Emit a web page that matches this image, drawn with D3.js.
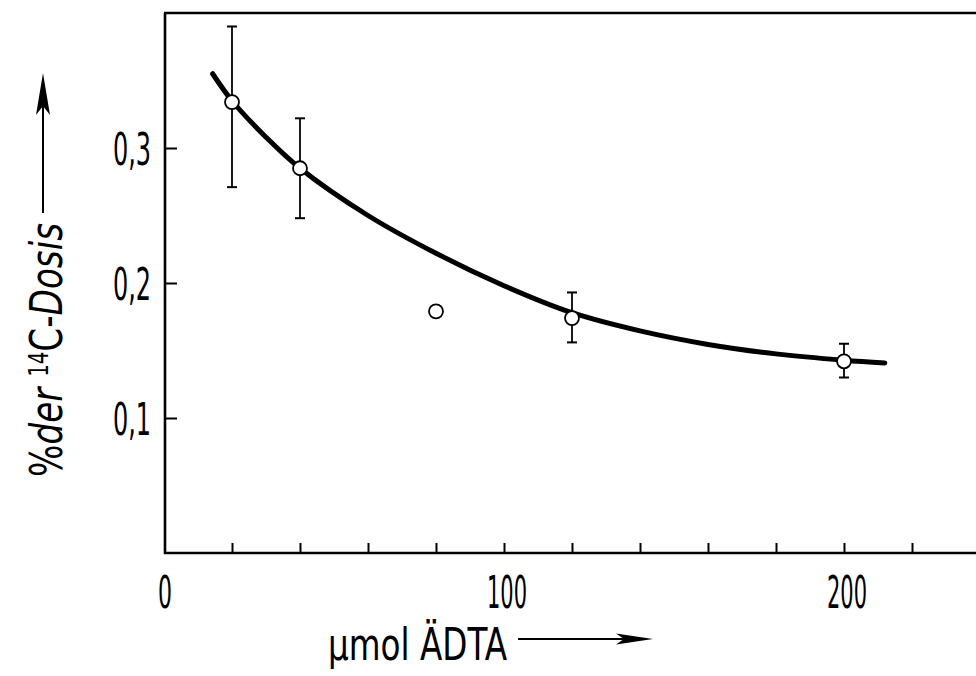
<!DOCTYPE html>
<html>
<head>
<meta charset="utf-8">
<script src="https://cdn.jsdelivr.net/npm/d3@7/dist/d3.min.js"></script>
<style>
  html, body { margin: 0; padding: 0; background: #fff; }
  svg { display: block; }
  text { font-family: "Liberation Sans Narrow", "DejaVu Sans Condensed", "Liberation Sans", sans-serif; fill: #000; }
</style>
</head>
<body>
<script>
// ---- data ----
const xTicks = [20, 40, 60, 80, 100, 120, 140, 160, 180, 200, 220];
const xTickLabels = [[0, "0"], [100, "100"], [200, "200"]];
const yTicks = [0.1, 0.2, 0.3];
const yTickLabels = ["0,1", "0,2", "0,3"];

const pointX = [20, 40, 80, 120, 200];
const pointY = [0.334, 0.285, 0.179, 0.174, 0.142];
const errLow = [0.271, 0.248, null, 0.156, 0.130];
const errHigh = [0.390, 0.322, null, 0.193, 0.155];

const curveX = [14.3, 20, 30, 40, 60, 80, 100, 120, 140, 160, 180, 200, 212];
const curveY = [0.355, 0.335, 0.308, 0.285, 0.250, 0.222, 0.198, 0.178, 0.1645, 0.1545, 0.1475, 0.1428, 0.1408];

const xTitle = "µmol ÄDTA";

// ---- layout ----
const W = 976, H = 676;
const svg = d3.select("body").append("svg").attr("width", W).attr("height", H);

const x = d3.scaleLinear().domain([0, 240]).range([164, 980]);
const y = d3.scaleLinear().domain([0, 0.4]).range([553, 13]);

const axisW = 2.6;

// frame: left, top, bottom
svg.append("line").attr("x1", x(0) + 1).attr("x2", x(0) + 1).attr("y1", y(0.4)).attr("y2", y(0) + 1)
  .attr("stroke", "#000").attr("stroke-width", axisW);
svg.append("line").attr("x1", x(0)).attr("x2", W).attr("y1", y(0.4)).attr("y2", y(0.4))
  .attr("stroke", "#000").attr("stroke-width", axisW);
svg.append("line").attr("x1", x(0)).attr("x2", W).attr("y1", y(0)).attr("y2", y(0))
  .attr("stroke", "#000").attr("stroke-width", axisW);

// x ticks (inward, up)
const gx = svg.append("g").attr("transform", `translate(0,${y(0)})`)
  .call(d3.axisBottom(x).tickValues(xTicks).tickSize(-10).tickFormat(""));
gx.select(".domain").remove();
gx.selectAll(".tick line").attr("stroke", "#000").attr("stroke-width", 2);

// y ticks (inward, right)
const gy = svg.append("g").attr("transform", `translate(${x(0) + 1},0)`)
  .call(d3.axisLeft(y).tickValues(yTicks).tickSize(-12).tickFormat(""));
gy.select(".domain").remove();
gy.selectAll(".tick line").attr("stroke", "#000").attr("stroke-width", 2);

// y tick labels
svg.selectAll(".ylab").data(yTicks).enter().append("text")
  .attr("class", "ylab")
  .attr("x", 151).attr("y", d => y(d) + 17)
  .attr("text-anchor", "end")
  .attr("font-size", 45)
  .attr("textLength", 38).attr("lengthAdjust", "spacingAndGlyphs")
  .text((d, i) => yTickLabels[i]);

// x tick labels
svg.selectAll(".xlab").data(xTickLabels).enter().append("text")
  .attr("class", "xlab")
  .attr("x", d => x(d[0]) + (d[0] === 0 ? 1 : 3)).attr("y", 608)
  .attr("text-anchor", "middle")
  .attr("font-size", 45)
  .attr("textLength", d => d[1].length === 1 ? 14 : 40).attr("lengthAdjust", "spacingAndGlyphs")
  .text(d => d[1]);

// x title + arrow
svg.append("text").attr("x", 328).attr("y", 660)
  .attr("font-size", 45)
  .attr("textLength", 179).attr("lengthAdjust", "spacingAndGlyphs")
  .text(xTitle);
svg.append("line").attr("x1", 518).attr("x2", 640).attr("y1", 639).attr("y2", 639)
  .attr("stroke", "#000").attr("stroke-width", 2);
svg.append("path").attr("d", "M653,639 L616,633.5 L624,639 L616,644.5 Z").attr("fill", "#000");

// y title (rotated) + arrow
const yt = svg.append("text")
  .attr("transform", "translate(62,477) rotate(-90)")
  .attr("font-size", 45)
  .attr("textLength", 254).attr("lengthAdjust", "spacingAndGlyphs");
yt.append("tspan").text("%");
yt.append("tspan").attr("font-style", "italic").text("der ");
yt.append("tspan").attr("font-size", 26).attr("dy", -14).text("14");
yt.append("tspan").attr("dy", 14).text("C-");
yt.append("tspan").attr("font-style", "italic").text("Dosis");

svg.append("line").attr("x1", 43).attr("x2", 43).attr("y1", 213).attr("y2", 95)
  .attr("stroke", "#000").attr("stroke-width", 2);
svg.append("path").attr("d", "M43,73 L36,115 L43,106 L50,115 Z").attr("fill", "#000");

// fitted curve
const curveData = curveX.map((v, i) => [v, curveY[i]]);
svg.append("path").datum(curveData)
  .attr("d", d3.line().x(d => x(d[0])).y(d => y(d[1])).curve(d3.curveCatmullRom.alpha(0.5)))
  .attr("fill", "none").attr("stroke", "#000").attr("stroke-width", 5).attr("stroke-linecap", "round");

// error bars
const pts = pointX.map((v, i) => ({ x: v, y: pointY[i], lo: errLow[i], hi: errHigh[i] }));
const eb = svg.append("g").selectAll("g").data(pts.filter(d => d.lo !== null)).enter().append("g");
eb.append("line").attr("x1", d => x(d.x)).attr("x2", d => x(d.x))
  .attr("y1", d => y(d.lo)).attr("y2", d => y(d.hi)).attr("stroke", "#000").attr("stroke-width", 1.8);
eb.append("line").attr("x1", d => x(d.x) - 5).attr("x2", d => x(d.x) + 5)
  .attr("y1", d => y(d.lo)).attr("y2", d => y(d.lo)).attr("stroke", "#000").attr("stroke-width", 2);
eb.append("line").attr("x1", d => x(d.x) - 5).attr("x2", d => x(d.x) + 5)
  .attr("y1", d => y(d.hi)).attr("y2", d => y(d.hi)).attr("stroke", "#000").attr("stroke-width", 2);

// points
svg.append("g").selectAll("circle").data(pts).enter().append("circle")
  .attr("cx", d => x(d.x)).attr("cy", d => y(d.y)).attr("r", 7)
  .attr("fill", "#fff").attr("stroke", "#000").attr("stroke-width", 1.8);
</script>
</body>
</html>
